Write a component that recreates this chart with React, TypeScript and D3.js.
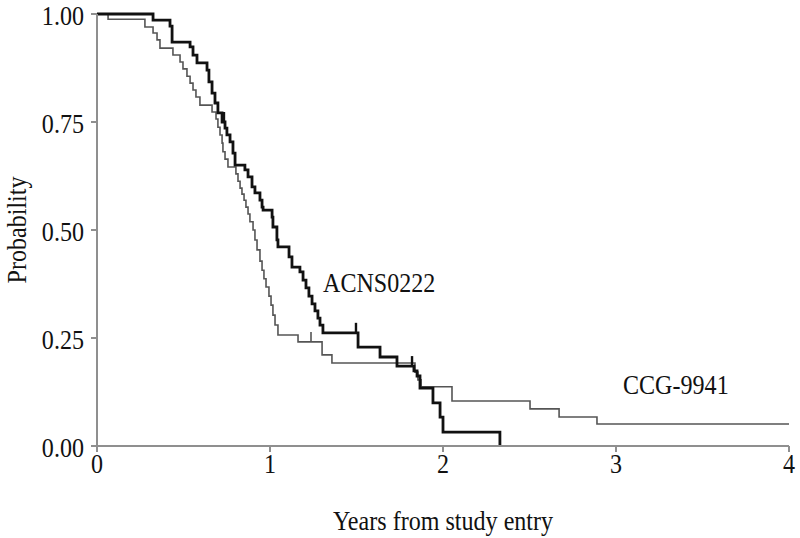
import React from "react";
import * as d3 from "d3";

// ACNS0222 (thick black) Kaplan-Meier steps: time (years) and survival after the step
const acnsTimes = [0.324, 0.422, 0.434, 0.538, 0.555, 0.578, 0.636, 0.647, 0.665, 0.682, 0.699, 0.723, 0.740, 0.751, 0.769, 0.786, 0.798, 0.855, 0.873, 0.896, 0.913, 0.942, 0.954, 0.960, 1.012, 1.017, 1.040, 1.046, 1.110, 1.127, 1.173, 1.191, 1.208, 1.225, 1.243, 1.260, 1.277, 1.289, 1.306, 1.509, 1.636, 1.734, 1.832, 1.850, 1.867, 1.942, 1.983, 2.000, 2.329];
const acnsSurv = [0.986, 0.972, 0.935, 0.924, 0.905, 0.887, 0.870, 0.843, 0.817, 0.794, 0.771, 0.750, 0.736, 0.720, 0.704, 0.678, 0.650, 0.639, 0.623, 0.600, 0.586, 0.569, 0.553, 0.546, 0.530, 0.507, 0.477, 0.461, 0.438, 0.414, 0.403, 0.384, 0.366, 0.347, 0.329, 0.313, 0.296, 0.280, 0.262, 0.229, 0.206, 0.185, 0.174, 0.162, 0.134, 0.100, 0.067, 0.032, 0.0];
const acnsCensor = [0.734, 1.497, 1.821];
const acnsEnd = 2.329;

// CCG-9941 (thin gray)
const ccgTimes = [0.064, 0.277, 0.324, 0.347, 0.364, 0.439, 0.480, 0.497, 0.520, 0.538, 0.555, 0.572, 0.595, 0.665, 0.688, 0.699, 0.711, 0.723, 0.728, 0.740, 0.757, 0.803, 0.815, 0.827, 0.838, 0.850, 0.861, 0.873, 0.884, 0.902, 0.913, 0.925, 0.942, 0.954, 0.965, 0.977, 0.994, 1.006, 1.017, 1.029, 1.046, 1.162, 1.301, 1.358, 1.838, 1.855, 1.873, 2.052, 2.503, 2.671, 2.890];
const ccgSurv = [0.988, 0.970, 0.956, 0.940, 0.921, 0.905, 0.889, 0.873, 0.856, 0.840, 0.824, 0.808, 0.789, 0.773, 0.757, 0.738, 0.720, 0.701, 0.681, 0.664, 0.646, 0.630, 0.613, 0.597, 0.583, 0.569, 0.553, 0.537, 0.519, 0.500, 0.477, 0.454, 0.428, 0.407, 0.387, 0.368, 0.347, 0.326, 0.303, 0.280, 0.257, 0.241, 0.211, 0.192, 0.171, 0.153, 0.137, 0.104, 0.086, 0.067, 0.051];
const ccgCensor = [1.237];
const ccgEnd = 4.0;

const xTicks = [0, 1, 2, 3, 4];
const yTicks = [0, 0.25, 0.5, 0.75, 1.0];

const W = 800;
const H = 538;
const FONT = "'Liberation Serif', 'Times New Roman', serif";
const FS = 28;
const SX = 0.86;

function buildPoints(times: number[], surv: number[], end: number): [number, number][] {
  const pts: [number, number][] = [[0, 1]];
  times.forEach((t, i) => pts.push([t, surv[i]]));
  const last = pts[pts.length - 1];
  if (last[0] < end) pts.push([end, last[1]]);
  return pts;
}

function survAt(times: number[], surv: number[], t: number): number {
  let s = 1;
  for (let i = 0; i < times.length; i++) {
    if (times[i] <= t) s = surv[i];
  }
  return s;
}

function Label(props: { x: number; y: number; anchor?: string; rotate?: number; children: React.ReactNode }) {
  const { x, y, anchor = "start", rotate = 0, children } = props;
  return (
    <text
      transform={`translate(${x}, ${y}) rotate(${rotate}) scale(${SX}, 1)`}
      textAnchor={anchor}
      fontSize={FS}
      fill="#111"
    >
      {children}
    </text>
  );
}

export default function App() {
  const x = d3.scaleLinear().domain([0, 4]).range([97, 789]);
  const y = d3.scaleLinear().domain([0, 1]).range([446, 14]);
  const line = d3
    .line<[number, number]>()
    .x((d) => x(d[0]))
    .y((d) => y(d[1]))
    .curve(d3.curveStepAfter);

  const acnsPts = buildPoints(acnsTimes, acnsSurv, acnsEnd);
  const ccgPts = buildPoints(ccgTimes, ccgSurv, ccgEnd);
  const axisColor = "#8f8f8f";

  return (
    <svg
      width={W}
      height={H}
      style={{ position: "absolute", left: 0, top: 0, background: "#fff" }}
      fontFamily={FONT}
    >
      {/* curves */}
      <path d={line(ccgPts) || ""} fill="none" stroke="#555" strokeWidth={1.6} />
      {ccgCensor.map((t, i) => (
        <line
          key={"cc" + i}
          x1={x(t)}
          x2={x(t)}
          y1={y(survAt(ccgTimes, ccgSurv, t))}
          y2={y(survAt(ccgTimes, ccgSurv, t)) - 10}
          stroke="#555"
          strokeWidth={1.6}
        />
      ))}
      <path d={line(acnsPts) || ""} fill="none" stroke="#111" strokeWidth={2.8} />
      {acnsCensor.map((t, i) => (
        <line
          key={"ac" + i}
          x1={x(t)}
          x2={x(t)}
          y1={y(survAt(acnsTimes, acnsSurv, t))}
          y2={y(survAt(acnsTimes, acnsSurv, t)) - 10}
          stroke="#111"
          strokeWidth={2.4}
        />
      ))}

      {/* axes */}
      <line x1={x(0)} x2={x(4)} y1={y(0)} y2={y(0)} stroke={axisColor} strokeWidth={2} />
      <line x1={x(0)} x2={x(0)} y1={y(0)} y2={y(1)} stroke={axisColor} strokeWidth={2} />
      {xTicks.map((t) => (
        <g key={"xt" + t}>
          <line x1={x(t)} x2={x(t)} y1={y(0)} y2={y(0) + 6} stroke={axisColor} strokeWidth={2} />
          <Label x={x(t)} y={y(0) + 27} anchor="middle">
            {t}
          </Label>
        </g>
      ))}
      {yTicks.map((v) => (
        <g key={"yt" + v}>
          <line x1={x(0) - 6} x2={x(0)} y1={y(v)} y2={y(v)} stroke={axisColor} strokeWidth={2} />
          <Label x={x(0) - 13} y={y(v) + 11} anchor="end">
            {v.toFixed(2)}
          </Label>
        </g>
      ))}

      {/* titles */}
      <Label x={x(2)} y={530} anchor="middle">
        Years from study entry
      </Label>
      <Label x={26} y={y(0.5)} anchor="middle" rotate={-90}>
        Probability
      </Label>

      {/* curve labels */}
      <Label x={323} y={292}>
        ACNS0222
      </Label>
      <Label x={623} y={394}>
        CCG-9941
      </Label>
    </svg>
  );
}
